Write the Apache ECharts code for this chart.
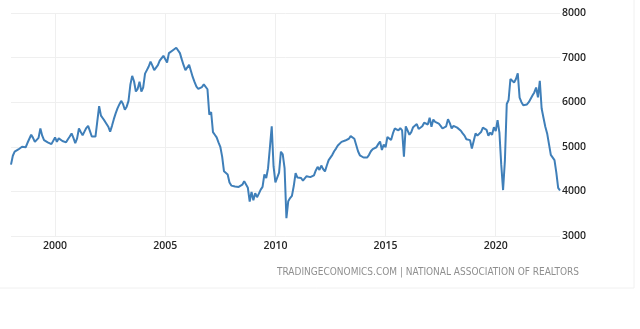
<!DOCTYPE html>
<html>
<head>
<meta charset="utf-8">
<title>United States Existing Home Sales</title>
<script src="https://cdn.jsdelivr.net/npm/echarts@6/dist/echarts.min.js"></script>
<style>
  html, body { margin: 0; padding: 0; background: #ffffff; }
  #chart { width: 640px; height: 329px; }
</style>
</head>
<body>
<div id="chart"></div>
<script>
// Existing home sales, seasonally adjusted annual rate (thousands), monthly from Jan 1998
const startYear = 1998;
const sales1998to2002 = [
  4600, 4800, 4890, 4880, 4940, 4900, 5000, 4960, 4990, 5090, 5180, 5270,
  5200, 5110, 5140, 5200, 5410, 5250, 5150, 5120, 5100, 5080, 5060, 5090,
  5210, 5110, 5190, 5210, 5130, 5090, 5100, 5170, 5230, 5300, 5200, 5080,
  5190, 5410, 5330, 5260, 5340, 5420, 5470, 5350, 5230, 5210, 5230, 5570,
  5910, 5700, 5640, 5580, 5560, 5450, 5340, 5470, 5620, 5750, 5860, 5950
];
const sales2003to2007 = [
  6030, 5960, 5830, 5900, 6030, 6390, 6590, 6470, 6240, 6300, 6460, 6240,
  6330, 6640, 6720, 6800, 6910, 6820, 6720, 6680, 6830, 6930, 6890, 7040,
  7060, 6890, 7100, 7130, 7160, 7180, 7220, 7250, 7100, 6960, 6830, 6720,
  6740, 6840, 6700, 6560, 6450, 6350, 6300, 6280, 6340, 6400, 6420, 6290,
  5720, 5780, 5330, 5270, 5210, 5100, 5000, 4780, 4450, 4440, 4380, 4200
];
const sales2008to2012 = [
  4130, 4140, 4110, 4080, 4100, 4090, 4150, 4230, 4260, 4080, 3770, 3990,
  3800, 3960, 3870, 3950, 4040, 4100, 4380, 4300, 4520, 4980, 5460, 4560,
  4200, 4190, 4420, 4890, 4830, 4520, 3400, 3780, 3850, 3900, 4120, 4410,
  4310, 4280, 4300, 4240, 4260, 4340, 4310, 4320, 4330, 4360, 4470, 4550,
  4480, 4580, 4500, 4450, 4580, 4700, 4660, 4820, 4900, 4960, 5030, 5060
];
const sales2013to2017 = [
  5110, 5130, 5140, 5150, 5180, 5240, 5270, 5180, 5040, 4900, 4810, 4780,
  4760, 4740, 4760, 4820, 4900, 4950, 4970, 4990, 5060, 5120, 4930, 5050,
  4990, 5220, 5190, 5150, 5300, 5410, 5430, 5370, 5420, 5370, 4780, 5460,
  5450, 5270, 5330, 5440, 5460, 5510, 5400, 5380, 5460, 5540, 5560, 5500,
  5650, 5450, 5610, 5560, 5580, 5520, 5470, 5410, 5400, 5460, 5620, 5530
];
const sales2018to2022 = [
  5410, 5470, 5500, 5430, 5400, 5360, 5300, 5250, 5170, 5180, 5150, 4960,
  4950, 5300, 5250, 5270, 5330, 5430, 5460, 5380, 5250, 5320, 5270, 5440,
  5350, 5600, 5320, 4600, 4030, 4700, 5960, 6050, 6520, 6560, 6440, 6520,
  6650, 6100, 6000, 5930, 5900, 5950, 6000, 5990, 6150, 6220, 6330, 6110,
  6480, 5860, 5650, 5450, 5300, 5060, 4820, 4780, 4700, 4420, 4080, 4020
];
const yearLabels = ['2000', '2005', '2010', '2015', '2020'];
const yMin = 3000, yMax = 8000, yStep = 1000;
const sourceText = 'TRADINGECONOMICS.COM | NATIONAL ASSOCIATION OF REALTORS';

const sales = [].concat(sales1998to2002, sales2003to2007, sales2008to2012,
                        sales2013to2017, sales2018to2022);
const months = sales.map((_, i) => {
  const y = startYear + Math.floor(i / 12);
  const m = (i % 12) + 1;
  return y + '-' + (m < 10 ? '0' + m : m);
});
const isLabelledYear = (idx) =>
  months[idx].endsWith('-01') && yearLabels.includes(months[idx].slice(0, 4));

const labelFont = {
  color: '#262626',
  fontFamily: 'Open Sans',
  fontSize: 10.5,
  fontWeight: 600
};

const chart = echarts.init(document.getElementById('chart'), null, { renderer: 'canvas' });
chart.setOption({
  animation: false,
  backgroundColor: '#ffffff',
  grid: { left: 11, right: 80, top: 13, bottom: 93, containLabel: false },
  xAxis: {
    type: 'category',
    data: months,
    boundaryGap: false,
    axisLine: { show: false },
    axisTick: { show: false },
    axisLabel: Object.assign({
      interval: (idx) => isLabelledYear(idx),
      formatter: (v) => v.slice(0, 4),
      margin: 5
    }, labelFont),
    splitLine: {
      show: true,
      interval: (idx) => isLabelledYear(idx),
      lineStyle: { color: '#efefef', width: 1 }
    }
  },
  yAxis: {
    type: 'value',
    position: 'right',
    min: yMin,
    max: yMax,
    interval: yStep,
    axisLine: { show: false },
    axisTick: { show: false },
    axisLabel: Object.assign({
      formatter: (v) => String(v),
      margin: 2
    }, labelFont),
    splitLine: { lineStyle: { color: '#efefef', width: 1 } }
  },
  series: [{
    type: 'line',
    data: sales,
    showSymbol: false,
    smooth: false,
    lineStyle: { color: '#3f7fb9', width: 2 },
    itemStyle: { color: '#3f7fb9' }
  }],
  graphic: [
    {
      type: 'rect',
      silent: true,
      shape: { x: -1, y: -1, width: 635, height: 289 },
      style: { fill: 'none', stroke: '#f0f0f0', lineWidth: 1 }
    },
    {
      type: 'text',
      silent: true,
      x: 579,
      y: 272,
      style: {
        text: sourceText,
        align: 'right',
        verticalAlign: 'middle',
        fill: '#8f8f8f',
        font: '10px "DejaVu Sans Condensed", "Liberation Sans Narrow", sans-serif'
      }
    }
  ]
});
</script>
</body>
</html>
